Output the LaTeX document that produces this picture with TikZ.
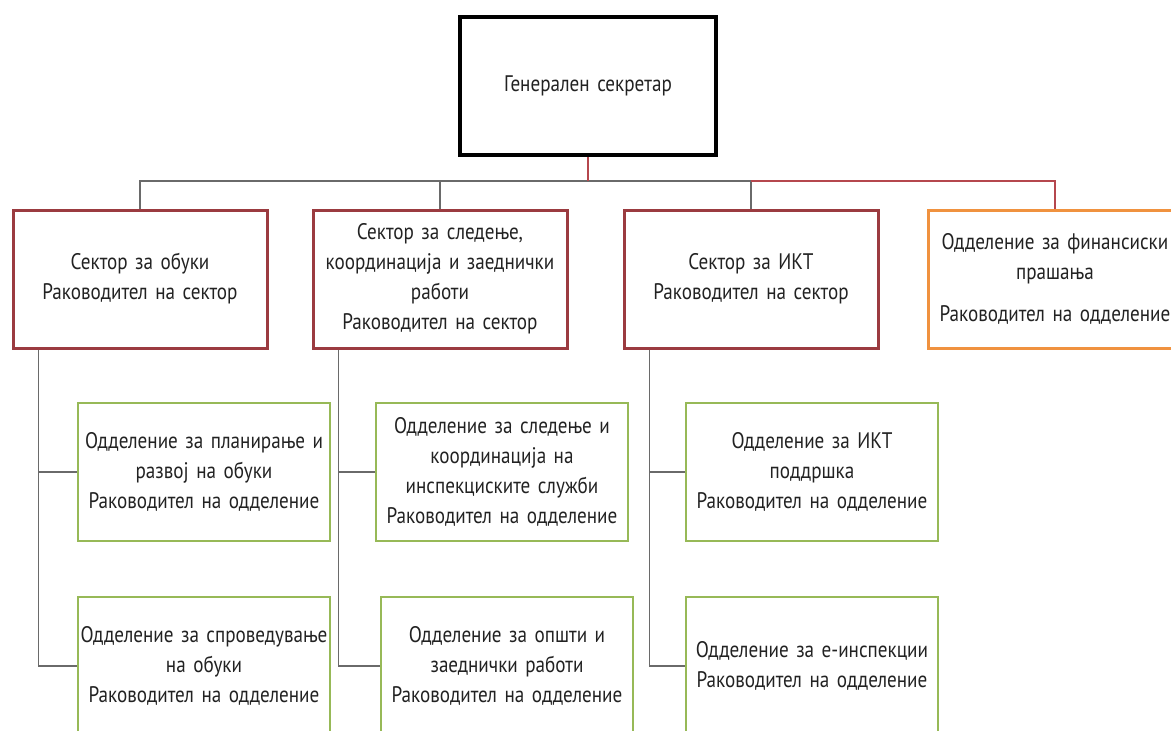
\documentclass[tikz,border=0pt]{standalone}
\usepackage{fontspec}
\setmainfont{PT Sans}[FakeStretch=0.85]
\definecolor{sectc}{HTML}{9B3B40}
\definecolor{finc}{HTML}{F0923F}
\definecolor{grnc}{HTML}{97B957}
\definecolor{connc}{HTML}{6A6A6A}
\definecolor{redc}{HTML}{B5474E}
\definecolor{textc}{HTML}{222222}
\begin{document}
\begin{tikzpicture}[x=1pt,y=-1pt,
  basebox/.style={draw, rectangle, align=center, inner xsep=0pt, inner ysep=0pt,
    minimum height=138pt, text=textc, font=\fontsize{22.5}{30}\selectfont},
  topbox/.style={basebox, line width=4pt, draw=black, minimum width=256pt, text width=246pt},
  sectbox/.style={basebox, line width=3pt, draw=sectc, minimum width=254pt, text width=250pt},
  finbox/.style={basebox, line width=3pt, draw=finc, minimum width=254pt, text width=250pt},
  subbox/.style={basebox, line width=2.8pt, draw=grnc, minimum width=252pt, text width=250pt},
  conn/.style={draw=connc, line width=1.3pt},
  redconn/.style={draw=redc, line width=2.2pt}]
\useasboundingbox (0,0) rectangle (1171,731);
\clip (0,0) rectangle (1171,731);
\fill[white] (0,0) rectangle (1171,731);
\coordinate (bus) at (0,181);

\node[topbox] (gs) at (588,86) {Генерален секретар};

\node[sectbox] (s1) at (140,279) {Сектор за обуки\\Раководител на сектор};
\node[sectbox] (s2) at (440,279) {Сектор за следење,\\координација и заеднички\\работи\\Раководител на сектор};
\node[sectbox] (s3) at (751,279) {Сектор за ИКТ\\Раководител на сектор};
\node[finbox] (s4) at (1055,279) {Одделение за финансиски\\прашања\\[12pt]Раководител на одделение};

\node[subbox] (g11) at (204,472) {Одделение за планирање и\\развој на обуки\\Раководител на одделение};
\node[subbox] (g12) at (204,666) {Одделение за спроведување\\на обуки\\Раководител на одделение};
\node[subbox] (g21) at (502,472) {Одделение за следење и\\координација на\\инспекциските служби\\Раководител на одделение};
\node[subbox] (g22) at (507,666) {Одделение за општи и\\заеднички работи\\Раководител на одделение};
\node[subbox] (g31) at (812,472) {Одделение за ИКТ\\поддршка\\Раководител на одделение};
\node[subbox] (g32) at (812,666) {Одделение за е-инспекции\\Раководител на одделение};

% top level connectors
\draw[conn] (s1.north) -- (s1.north |- bus) -- (s3.north |- bus) -- (s3.north);
\draw[conn] (s2.north) -- (s2.north |- bus);
\draw[redconn] (gs.south) -- (gs.south |- bus);
\draw[redconn] (s3.north |- bus) -- (s4.north |- bus) -- (s4.north);

% sub connectors
\coordinate (t1) at ([xshift=27pt]s1.south west);
\coordinate (t2) at ([xshift=27pt]s2.south west);
\coordinate (t3) at ([xshift=27pt]s3.south west);
\draw[conn] (t1) |- (g12.west);
\draw[conn] (t1 |- g11.west) -- (g11.west);
\draw[conn] (t2) |- (g22.west);
\draw[conn] (t2 |- g21.west) -- (g21.west);
\draw[conn] (t3) |- (g32.west);
\draw[conn] (t3 |- g31.west) -- (g31.west);
\end{tikzpicture}
\end{document}
